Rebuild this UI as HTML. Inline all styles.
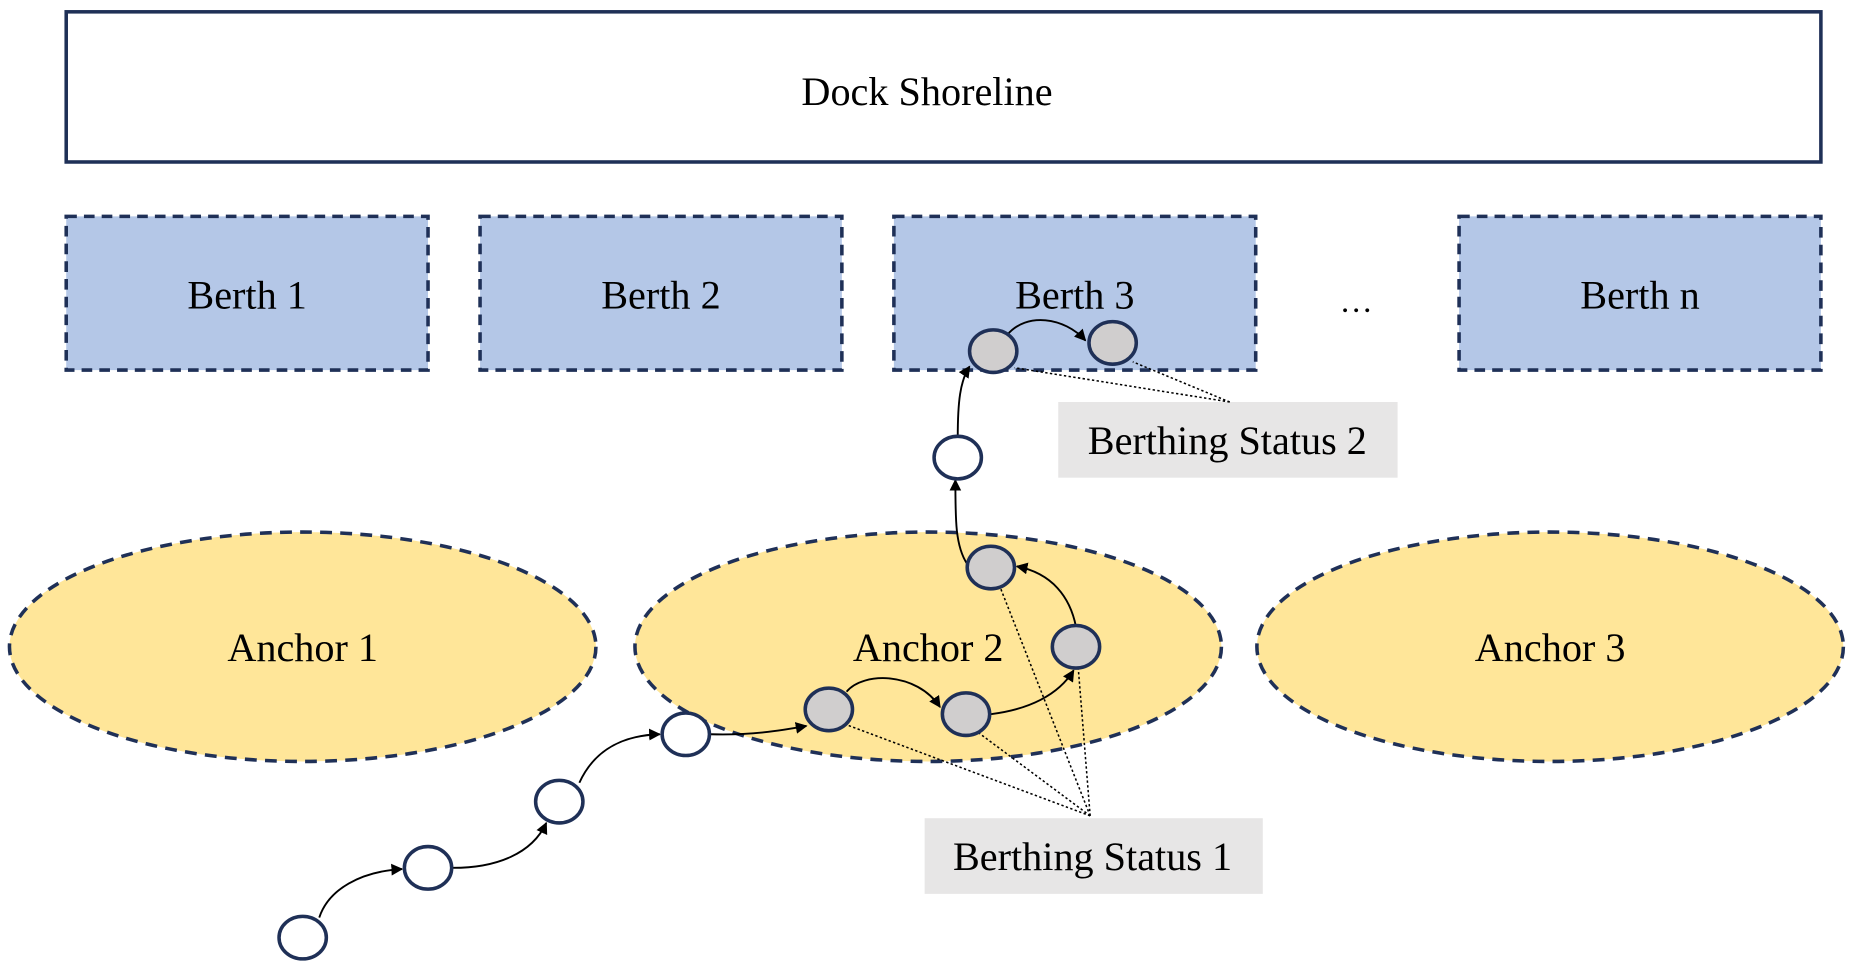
<!DOCTYPE html>
<html><head><meta charset="utf-8"><style>html,body{margin:0;padding:0;background:#fff}svg{display:block}</style></head>
<body>
<svg width="1854" height="966" viewBox="0 0 1568 817" preserveAspectRatio="none" xmlns="http://www.w3.org/2000/svg" font-family="'Liberation Serif', serif" font-size="34">
<defs>
<marker id="a" viewBox="0 0 10 10" refX="9" refY="5" markerWidth="10" markerHeight="10" markerUnits="userSpaceOnUse" orient="auto">
<path d="M0,0 L10,5 L0,10 z" fill="#000"/></marker>
</defs>
<rect x="0" y="0" width="1568" height="817" fill="#fff"/>
<rect x="56" y="10" width="1484" height="127" fill="#fff" stroke="#1f3057" stroke-width="3"/>
<text x="784" y="89" text-anchor="middle">Dock Shoreline</text>
<g fill="#b4c7e7" stroke="#1f3057" stroke-width="3" stroke-dasharray="9,6">
<rect x="56" y="183" width="306" height="130"/>
<rect x="406" y="183" width="306" height="130"/>
<rect x="756" y="183" width="306" height="130"/>
<rect x="1234" y="183" width="306" height="130"/>
</g>
<g text-anchor="middle">
<text x="209" y="261">Berth 1</text>
<text x="559" y="261">Berth 2</text>
<text x="909" y="261">Berth 3</text>
<text x="1387" y="261">Berth n</text>
<text x="1147" y="264" font-size="28">…</text>
</g>
<g fill="#ffe699" stroke="#1f3057" stroke-width="3" stroke-dasharray="10,7">
<ellipse cx="256" cy="547" rx="248" ry="97"/>
<ellipse cx="785" cy="547" rx="248" ry="97"/>
<ellipse cx="1311" cy="547" rx="248" ry="97"/>
</g>
<g text-anchor="middle">
<text x="256" y="559">Anchor 1</text>
<text x="785" y="559">Anchor 2</text>
<text x="1311" y="559">Anchor 3</text>
</g>
<rect x="895" y="340" width="287" height="64" fill="#e7e6e6"/>
<text x="1038" y="384" text-anchor="middle">Berthing Status 2</text>
<rect x="782" y="692" width="286" height="64" fill="#e7e6e6"/>
<text x="924" y="736" text-anchor="middle">Berthing Status 1</text>
<g stroke="#000" stroke-width="1.3" stroke-dasharray="2,2" fill="none">
<line x1="1040" y1="340" x2="858" y2="311"/>
<line x1="1040" y1="340" x2="958" y2="306"/>
<line x1="922" y1="690" x2="716" y2="613"/>
<line x1="922" y1="690" x2="828" y2="620"/>
<line x1="922" y1="690" x2="846" y2="497"/>
<line x1="922" y1="690" x2="912" y2="566"/>
</g>
<g stroke="#000" stroke-width="1.6" fill="none" marker-end="url(#a)">
<path d="M270,776 C278,752 305,737 340,735"/>
<path d="M383,734 C420,734 450,722 462,696"/>
<path d="M490,662 C500,640 520,622 558,621"/>
<path d="M601,621 C635,622 660,618 682,614"/>
<path d="M716,585 C730,568 775,568 795,598"/>
<path d="M838,604 C870,600 895,588 908,567"/>
<path d="M910,530 C905,505 890,485 860,479"/>
<path d="M818,477 C808,462 808,440 808,406"/>
<path d="M810,370 C810,340 812,322 820,310"/>
<path d="M852,283 C868,264 900,268 918,288"/>
</g>
<g stroke="#1f3057" stroke-width="3">
<g fill="#fff">
<ellipse cx="256" cy="793" rx="20" ry="18"/>
<ellipse cx="362" cy="734" rx="20" ry="18"/>
<ellipse cx="473" cy="678" rx="20" ry="18"/>
<ellipse cx="580" cy="621" rx="20" ry="18"/>
<ellipse cx="810" cy="387" rx="20" ry="18"/>
</g>
<g fill="#d0cece">
<ellipse cx="701" cy="600" rx="20" ry="18"/>
<ellipse cx="817" cy="604" rx="20" ry="18"/>
<ellipse cx="910" cy="547" rx="20" ry="18"/>
<ellipse cx="838" cy="480" rx="20" ry="18"/>
<ellipse cx="840" cy="297" rx="20" ry="18"/>
<ellipse cx="941" cy="290" rx="20" ry="18"/>
</g>
</g>
</svg>
</body></html>
